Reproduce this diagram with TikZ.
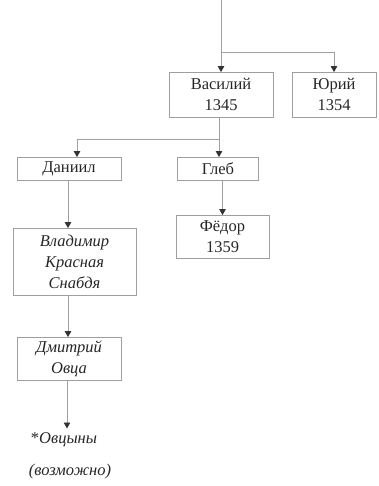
\documentclass[tikz,border=0pt]{standalone}
\usepackage{fontspec}
\setmainfont{Liberation Serif}
\usetikzlibrary{arrows.meta}
\begin{document}
\begin{tikzpicture}[x=1pt,y=-1pt,
  box/.style={draw=gray!75, line width=0.8pt, inner sep=0pt, align=center,
    text=black!85, font=\fontsize{16.5}{21}\selectfont},
  lbl/.style={inner sep=0pt, text=black!85, font=\fontsize{16.5}{21}\selectfont\itshape},
  link/.style={draw=gray!75, line width=0.8pt},
  arr/.style={link, -{Triangle[width=6.5pt,length=6pt,color=black!80]}, shorten >=-0.5pt}]
\useasboundingbox (0,0) rectangle (378,486);
\node[box, minimum width=104pt, minimum height=45pt] (vas) at (221,94.5) {Василий\\1345};
\node[box, minimum width=84pt, minimum height=45pt] (yur) at (334,94.5) {Юрий\\1354};
\node[box, minimum width=104pt, minimum height=23pt] (dan) at (69,168.5) {Даниил};
\node[box, minimum width=81pt, minimum height=23pt] (gle) at (218,168.5) {Глеб};
\node[box, minimum width=123pt, minimum height=67pt, font=\fontsize{16.5}{21}\selectfont\itshape] (vla) at (74.5,261.5) {Владимир\\Красная\\Снабдя};
\node[box, minimum width=93pt, minimum height=43pt] (fed) at (222.5,236.5) {Фёдор\\1359};
\node[box, minimum width=104pt, minimum height=43pt, font=\fontsize{16.5}{21}\selectfont\itshape] (dmi) at (69,358.5) {Дмитрий\\Овца};
\node[lbl, anchor=base] (ovc) at (64,443) {\upshape*\itshape Овцыны};
\node[lbl, anchor=base] (voz) at (70,475) {(возможно)};
\coordinate (top) at (221,0);
\coordinate (j1) at (221,52);
\coordinate (j2) at (219,139);
\coordinate (dx) at (77,139);
\coordinate (lx) at (68,0);
\coordinate (oe) at (67,428);
\draw[arr] (top) -- (vas.north);
\draw[arr] (j1) -| (yur.north);
\draw[link] (vas.south -| j2) -- (j2);
\draw[arr] (j2) -- (dx) -- (dx |- dan.north);
\draw[arr] (j2) -- (j2 |- gle.north);
\draw[arr] (gle.south -| fed.north) -- (fed.north);
\draw[arr] (dan.south -| lx) -- (vla.north -| lx);
\draw[arr] (vla.south -| lx) -- (dmi.north -| lx);
\draw[arr] (dmi.south -| oe) -- (oe);
\end{tikzpicture}
\end{document}
